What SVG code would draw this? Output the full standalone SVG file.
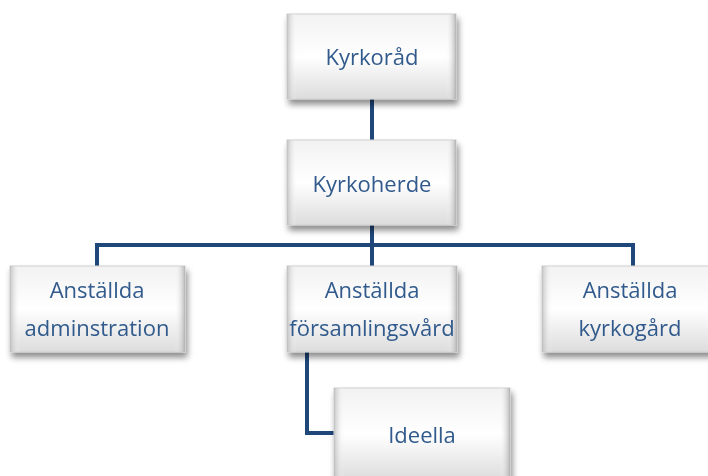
<svg xmlns="http://www.w3.org/2000/svg" width="708" height="476" viewBox="0 0 708 476">
<defs>
<linearGradient id="g" x1="0" y1="0" x2="0" y2="1">
<stop offset="0" stop-color="#f2f2f2"/>
<stop offset="0.5" stop-color="#ffffff"/>
<stop offset="1" stop-color="#dcdcdc"/>
</linearGradient>
<linearGradient id="gh" x1="0" y1="0" x2="1" y2="0">
<stop offset="0" stop-color="#b8b8b8" stop-opacity="0.8"/>
<stop offset="0.06" stop-color="#ffffff" stop-opacity="0"/>
<stop offset="0.94" stop-color="#ffffff" stop-opacity="0"/>
<stop offset="1" stop-color="#a8a8a8" stop-opacity="0.8"/>
</linearGradient>
<filter id="sh" x="-10%" y="-10%" width="125%" height="135%">
<feGaussianBlur in="SourceAlpha" stdDeviation="3"/>
<feOffset dx="2" dy="5" result="b"/>
<feComponentTransfer><feFuncA type="linear" slope="0.45"/></feComponentTransfer>
<feMerge><feMergeNode/><feMergeNode in="SourceGraphic"/></feMerge>
</filter>
</defs>
<style>
.box{fill:url(#g);stroke:#d0d0d0;stroke-width:1}
.edge{fill:url(#gh)}
.t{font-family:"Open Sans","Liberation Sans",sans-serif;font-size:22px;fill:#305a8c;text-anchor:middle}
.c{fill:none;stroke:#1f477a;stroke-width:4}
</style>
<g id="connectors">
<path class="c" d="M372 98 V140"/>
<path class="c" d="M372 225 V245"/>
<path class="c" d="M97 266 V245 H633 V266"/>
<path class="c" d="M372 245 V266"/>
<path class="c" d="M307 352 V433 H334"/>
</g>
<g id="kyrkorad" filter="url(#sh)">
<rect class="box" x="287" y="14" width="169" height="85"/>
<rect class="edge" x="287" y="14" width="169" height="85"/>
<text class="t" x="372" y="65">Kyrkoråd</text>
</g>
<g id="kyrkoherde" filter="url(#sh)">
<rect class="box" x="287" y="140" width="169" height="85"/>
<rect class="edge" x="287" y="140" width="169" height="85"/>
<text class="t" x="372" y="192">Kyrkoherde</text>
</g>
<g id="adminstration" filter="url(#sh)">
<rect class="box" x="10" y="266" width="175" height="86"/>
<rect class="edge" x="10" y="266" width="175" height="86"/>
<text class="t" x="97" y="298">Anställda</text>
<text class="t" x="97" y="336">adminstration</text>
</g>
<g id="forsamlingsvard" filter="url(#sh)">
<rect class="box" x="287" y="266" width="170" height="86"/>
<rect class="edge" x="287" y="266" width="170" height="86"/>
<text class="t" x="372" y="298">Anställda</text>
<text class="t" x="372" y="336">församlingsvård</text>
</g>
<g id="kyrkogard" filter="url(#sh)">
<rect class="box" x="542" y="266" width="175" height="86"/>
<rect class="edge" x="542" y="266" width="175" height="86"/>
<text class="t" x="630" y="298">Anställda</text>
<text class="t" x="630" y="336">kyrkogård</text>
</g>
<g id="ideella" filter="url(#sh)">
<rect class="box" x="334" y="388" width="176" height="92"/>
<rect class="edge" x="334" y="388" width="176" height="92"/>
<text class="t" x="422" y="443">Ideella</text>
</g>
</svg>
